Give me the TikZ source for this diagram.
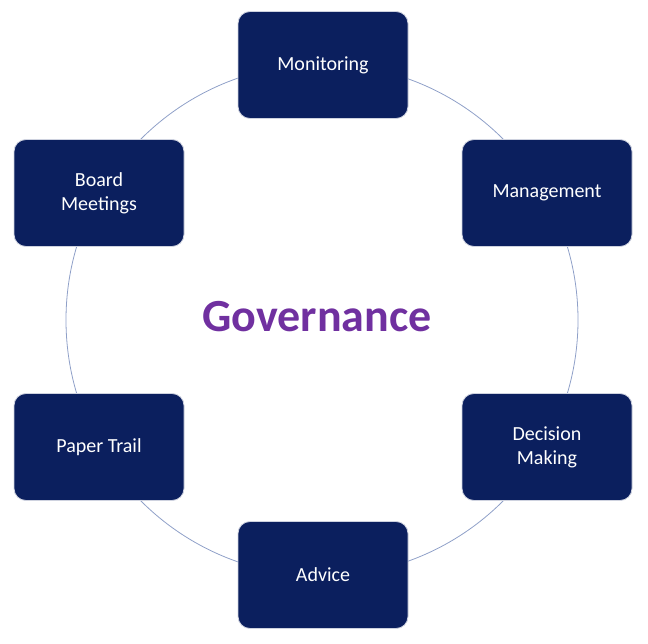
\documentclass[tikz,border=0pt]{standalone}
\usepackage{fontspec}
\setmainfont{Carlito}
\definecolor{navy}{HTML}{0B1F5E}
\definecolor{ring}{HTML}{8FA0C8}
\definecolor{gov}{HTML}{7030A0}
\begin{document}
\begin{tikzpicture}[x=1pt,y=-1pt,
  stepbox/.style={draw=white!80!navy,line width=0.8pt,fill=navy,rounded corners=12pt,
    minimum width=170pt,minimum height=107pt,text=white,font=\fontsize{20}{24}\selectfont,
    align=center}]
\useasboundingbox (0,0) rectangle (648,644);
\node (c) at (322,320) {};
\draw[ring,line width=0.8pt] (322,320) circle (256);
\node[stepbox] (mon) at (323,65) {Monitoring};
\node[stepbox] (man) at (547,193) {Management};
\node[stepbox] (dec) at (547,447) {Decision\\Making};
\node[stepbox] (adv) at (323,575) {Advice};
\node[stepbox] (pap) at (99,447) {Paper Trail};
\node[stepbox] (brd) at (99,193) {Board\\Meetings};
\node[text=gov,font=\bfseries\fontsize{46}{52}\selectfont] (g) at (317,317) {Governance};
\end{tikzpicture}
\end{document}
